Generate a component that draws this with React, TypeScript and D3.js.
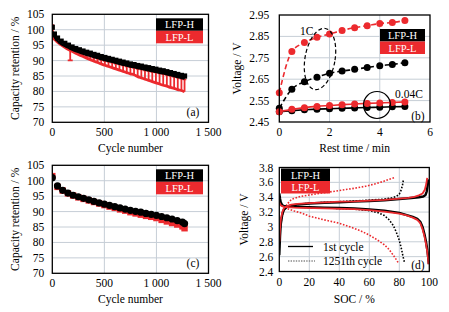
import React from 'react';
import * as d3 from 'd3';

const FONT = "'Liberation Serif', 'DejaVu Serif', serif";
const RED = '#ec2a2e';
const BLK = '#000000';
const GRID = '#c6ced6';

// ---------- (a) capacity retention with check-up comb ----------
const aCycles = [0, 20, 50, 85, 120, 155, 190, 225, 260, 295, 330, 365, 400, 435, 470, 505, 540, 575, 610, 645, 680, 715, 750, 785, 820, 855, 890, 925, 960, 995, 1030, 1065, 1100, 1135, 1170, 1205, 1240, 1270];
const aHTop = [100.8, 98.6, 97.3, 96.3, 95.6, 95.0, 94.4, 93.9, 93.5, 93.1, 92.7, 92.4, 92.0, 91.7, 91.3, 91.0, 90.7, 90.4, 90.1, 89.8, 89.5, 89.2, 88.9, 88.7, 88.4, 88.2, 87.9, 87.7, 87.4, 87.2, 86.9, 86.7, 86.4, 86.1, 85.8, 85.5, 85.2, 85.0];
const aHLow = [99.5, 97.6, 96.3, 95.3, 94.7, 94.1, 93.5, 93.0, 92.6, 92.2, 91.8, 91.5, 91.1, 90.8, 90.4, 90.1, 89.8, 89.5, 89.2, 88.9, 88.6, 88.3, 88.0, 87.8, 87.5, 87.3, 87.0, 86.8, 86.5, 86.3, 86.0, 85.8, 85.5, 85.2, 84.9, 84.6, 84.3, 84.1];
const aLTop = [101.5, 97.6, 96.2, 95.2, 94.5, 93.9, 93.3, 92.8, 92.4, 92.0, 91.6, 91.3, 90.9, 90.6, 90.2, 89.9, 89.6, 89.3, 89.0, 88.7, 88.4, 88.1, 87.8, 87.6, 87.3, 87.1, 86.8, 86.6, 86.3, 86.1, 85.8, 85.6, 85.3, 85.0, 84.7, 84.4, 84.1, 83.9];
const aLLow = [97.6, 96.9, 96.0, 95.1, 94.3, 93.6, 93.0, 92.4, 91.8, 91.3, 90.8, 90.3, 89.8, 89.4, 88.9, 88.5, 88.1, 87.7, 87.3, 86.9, 86.5, 86.1, 85.7, 85.4, 84.8, 84.4, 84.0, 83.6, 83.2, 82.8, 82.4, 82.0, 81.7, 81.3, 81.0, 80.6, 80.3, 79.9];
const aDipCycle = [172];
const aDipValue = [90.1];

// ---------- (b) rest voltage ----------
const bTime = [0, 0.5, 1, 1.5, 2, 2.5, 3, 3.5, 4, 4.5, 5];
const bL1C = [2.587, 2.779, 2.821, 2.846, 2.861, 2.878, 2.891, 2.900, 2.910, 2.915, 2.924];
const bH1C = [2.514, 2.603, 2.638, 2.659, 2.678, 2.688, 2.696, 2.705, 2.713, 2.719, 2.727];
const bL004 = [2.498, 2.509, 2.517, 2.523, 2.527, 2.531, 2.534, 2.537, 2.539, 2.541, 2.544];
const bH004 = [2.498, 2.503, 2.507, 2.510, 2.512, 2.514, 2.516, 2.518, 2.519, 2.521, 2.522];

// ---------- (c) capacity retention ----------
const cCycles = [0, 50, 100, 150, 200, 250, 300, 350, 400, 450, 500, 550, 600, 650, 700, 750, 800, 850, 900, 950, 1000, 1050, 1100, 1150, 1200, 1250, 1270];
const cH = [101.0, 98.3, 96.9, 96.0, 95.3, 94.8, 94.3, 93.8, 93.3, 92.8, 92.4, 92.0, 91.6, 91.2, 90.8, 90.4, 90.1, 89.8, 89.4, 89.1, 88.8, 88.4, 88.0, 87.6, 87.1, 86.6, 86.1];
const cL = [101.5, 98.0, 96.8, 95.9, 95.2, 94.6, 94.1, 93.6, 93.1, 92.6, 92.1, 91.6, 91.2, 90.7, 90.3, 89.8, 89.4, 89.0, 88.6, 88.3, 87.9, 87.3, 86.8, 86.3, 85.8, 85.2, 84.6];

// ---------- (d) voltage vs SOC ----------
const dH1ChgSoc = [0, 0.5, 1, 2, 3, 5, 8, 12, 20, 30, 40, 50, 60, 70, 80, 88, 93, 96, 97.5, 98.3, 98.9, 99.3];
const dH1ChgV = [2.62, 2.88, 3.04, 3.17, 3.23, 3.27, 3.29, 3.30, 3.315, 3.325, 3.33, 3.34, 3.35, 3.36, 3.375, 3.39, 3.40, 3.41, 3.43, 3.48, 3.56, 3.64];
const dL1ChgSoc = [0, 0.5, 1, 2, 3, 5, 8, 12, 20, 30, 40, 50, 60, 70, 80, 86, 90, 93, 95.5, 97, 98, 98.6];
const dL1ChgV = [2.80, 2.98, 3.10, 3.20, 3.25, 3.28, 3.30, 3.31, 3.32, 3.33, 3.34, 3.345, 3.355, 3.365, 3.38, 3.39, 3.405, 3.425, 3.45, 3.50, 3.58, 3.66];
const dH1DisSoc = [0, 0.5, 1, 2, 4, 10, 20, 30, 40, 50, 60, 70, 80, 85, 89, 92, 94, 95.5, 96.8, 97.8, 98.6, 99.2, 99.7];
const dH1DisV = [3.45, 3.38, 3.33, 3.29, 3.275, 3.27, 3.265, 3.26, 3.255, 3.25, 3.235, 3.22, 3.19, 3.16, 3.135, 3.11, 3.07, 3.00, 2.90, 2.80, 2.70, 2.60, 2.50];
const dL1DisSoc = [0, 1, 3, 10, 30, 50, 60, 70, 80, 85, 89, 92, 94, 95.5, 96.8, 97.8, 98.6, 99.2, 99.5];
const dL1DisV = [3.33, 3.29, 3.27, 3.26, 3.25, 3.24, 3.225, 3.205, 3.18, 3.155, 3.125, 3.095, 3.05, 2.97, 2.87, 2.77, 2.67, 2.57, 2.50];
const dHnChgSoc = [0, 0.5, 1, 2, 4, 8, 15, 25, 40, 50, 60, 70, 75, 78, 80, 81.3, 82.2, 82.8];
const dHnChgV = [2.72, 2.95, 3.08, 3.19, 3.26, 3.29, 3.31, 3.325, 3.34, 3.35, 3.36, 3.375, 3.39, 3.41, 3.44, 3.50, 3.57, 3.64];
const dHnDisSoc = [0, 2, 5, 15, 30, 47, 60, 66, 70, 73, 76, 78, 80, 81.5, 82.5, 83.5];
const dHnDisV = [3.32, 3.29, 3.275, 3.265, 3.255, 3.245, 3.22, 3.19, 3.155, 3.10, 3.02, 2.93, 2.82, 2.70, 2.60, 2.52];
const dLnChgSoc = [0.5, 1.5, 3, 5, 8, 14, 20, 30, 40, 50, 58, 64, 69, 73, 77];
const dLnChgV = [2.95, 3.10, 3.22, 3.30, 3.37, 3.41, 3.43, 3.46, 3.49, 3.52, 3.55, 3.58, 3.61, 3.64, 3.665];
const dLnDisSoc = [0, 1.5, 5, 10, 15, 20, 30, 40, 50, 55, 60, 65, 70, 73, 76, 78, 79.5];
const dLnDisV = [3.31, 3.29, 3.25, 3.215, 3.185, 3.145, 3.095, 3.05, 2.98, 2.94, 2.89, 2.83, 2.76, 2.70, 2.62, 2.56, 2.51];

const aXTicks = [0, 500, 1000, 1500];
const aXLabels = ['0', '500', '1 000', '1 500'];
const aYTicks = [70, 75, 80, 85, 90, 95, 100, 105];
const bXTicks = [0, 2, 4, 6];
const bYTicks = [2.45, 2.55, 2.65, 2.75, 2.85, 2.95];
const dXTicks = [0, 20, 40, 60, 80, 100];
const dYTicks = [2.4, 2.6, 2.8, 3.0, 3.2, 3.4, 3.6, 3.8];
const dYLabels = ['2.4', '2.6', '2.8', '3', '3.2', '3.4', '3.6', '3.8'];

type Lin = d3.ScaleLinear<number, number>;
const TXT = { fontFamily: FONT, fontSize: '11.5px' } as React.CSSProperties;

function Grid({ x, y, xs, ys }: { x: Lin; y: Lin; xs: number[]; ys: number[] }) {
  const [x0, x1] = x.range();
  const [y0, y1] = y.range();
  return (
    <g>
      {xs.map((v, i) => (
        <line key={'gx' + i} x1={x(v)} x2={x(v)} y1={y0} y2={y1} stroke={GRID} strokeWidth={1} />
      ))}
      {ys.map((v, i) => (
        <line key={'gy' + i} x1={x0} x2={x1} y1={y(v)} y2={y(v)} stroke={GRID} strokeWidth={1} />
      ))}
    </g>
  );
}

function Frame({ x, y }: { x: Lin; y: Lin }) {
  const [x0, x1] = x.range();
  const [y0, y1] = y.range();
  return <rect x={x0} y={y1} width={x1 - x0} height={y0 - y1} fill="none" stroke={BLK} strokeWidth={1.3} />;
}

function AxisLabels({ x, y, xt, xl, yt, yl, gap, xLabelY, xTitle, xTitleY, yTitle, yTitleX }: {
  x: Lin; y: Lin; xt: number[]; xl: string[]; yt: number[]; yl: string[]; gap: number;
  xLabelY: number; xTitle: string; xTitleY: number; yTitle: string; yTitleX: number;
}) {
  const [x0, x1] = x.range();
  const [y0, y1] = y.range();
  return (
    <g style={TXT} fill={BLK}>
      {xt.map((v, i) => (
        <text key={'xl' + i} x={x(v)} y={xLabelY} textAnchor="middle">{xl[i]}</text>
      ))}
      {yt.map((v, i) => (
        <text key={'yl' + i} x={x0 - gap} y={y(v) + 4} textAnchor="end">{yl[i]}</text>
      ))}
      <text x={(x0 + x1) / 2} y={xTitleY} textAnchor="middle">{xTitle}</text>
      <text transform={`translate(${yTitleX},${(y0 + y1) / 2}) rotate(-90)`} textAnchor="middle" dominantBaseline="central">{yTitle}</text>
    </g>
  );
}

function Legend({ x0, x1, yTop, h }: { x0: number; x1: number; yTop: number; h: number }) {
  return (
    <g style={{ fontFamily: FONT, fontSize: '10.5px' }}>
      <rect x={x0} y={yTop} width={x1 - x0} height={h} fill={BLK} />
      <rect x={x0} y={yTop + h} width={x1 - x0} height={h} fill={RED} />
      <text x={(x0 + x1) / 2} y={yTop + h / 2 + 3.8} fill="#fff" textAnchor="middle">LFP-H</text>
      <text x={(x0 + x1) / 2} y={yTop + h * 1.5 + 3.8} fill="#fff" textAnchor="middle">LFP-L</text>
    </g>
  );
}

function lineOf(x: Lin, y: Lin, xs: number[], ys: number[], curve: d3.CurveFactory = d3.curveMonotoneX) {
  const pts: [number, number][] = xs.map((v, i) => [x(v), y(ys[i])]);
  return d3.line().curve(curve)(pts) || '';
}

function PanelA({ top, variant }: { top: number; variant: 'a' | 'c' }) {
  const x = d3.scaleLinear().domain([0, 1500]).range([52.3, 208.5]);
  const y = d3.scaleLinear().domain([70, 105]).range([top + 108, top]);
  const bottom = top + 108;
  const clipId = 'clip' + variant;
  return (
    <g>
      <Grid x={x} y={y} xs={[500, 1000]} ys={[75, 80, 85, 90, 95, 100]} />
      <defs>
        <clipPath id={clipId}><rect x={52.3} y={top} width={156.2} height={108} /></clipPath>
      </defs>
      {variant === 'a' ? (
        <g clipPath={`url(#${clipId})`}>
          <path d={lineOf(x, y, [0, ...aCycles], [aLTop[0], ...aLLow])} fill="none" stroke={RED} strokeWidth={2.8} />
          {aCycles.map((c, i) => (
            <line key={'rs' + i} x1={x(c)} x2={x(c)} y1={y(aLLow[i])} y2={y(aLTop[i])} stroke={RED} strokeWidth={1.8} />
          ))}
          {aCycles.map((c, i) => (
            <line key={'rt' + i} x1={x(c) - 1.8} x2={x(c) + 1.8} y1={y(aLTop[i])} y2={y(aLTop[i])} stroke={RED} strokeWidth={1.5} />
          ))}
          {aDipCycle.map((c, i) => (
            <g key={'dip' + i}>
              <line x1={x(c)} x2={x(c)} y1={y(aLLow[5])} y2={y(aDipValue[i])} stroke={RED} strokeWidth={1.8} />
              <line x1={x(c) - 2.5} x2={x(c) + 2.5} y1={y(aDipValue[i])} y2={y(aDipValue[i])} stroke={RED} strokeWidth={1.8} />
            </g>
          ))}
          <path d={lineOf(x, y, aCycles, aHLow)} fill="none" stroke={BLK} strokeWidth={2} />
          {aCycles.map((c, i) => (
            <line key={'bs' + i} x1={x(c)} x2={x(c)} y1={y(aHLow[i])} y2={y(aHTop[i])} stroke={BLK} strokeWidth={1.4} />
          ))}
          {aCycles.map((c, i) => (
            <rect key={'bm' + i} x={x(c) - 2.6} y={y(aHTop[i]) - 2.6} width={5.2} height={5.2} fill={BLK} />
          ))}
        </g>
      ) : (
        <g clipPath={`url(#${clipId})`}>
          {cCycles.map((c, i) => (
            <rect key={'cr' + i} x={x(c) - 3.2} y={y(cL[i]) - 3.2} width={6.4} height={6.4} fill={RED} />
          ))}
          {cCycles.map((c, i) => (
            <circle key={'cb' + i} cx={x(c)} cy={y(cH[i])} r={3.6} fill={BLK} />
          ))}
        </g>
      )}
      <Frame x={x} y={y} />
      <AxisLabels
        x={x} y={y} xt={aXTicks} xl={aXLabels} yt={aYTicks} yl={aYTicks.map(String)} gap={8}
        xLabelY={bottom + 14} xTitle="Cycle number" xTitleY={bottom + 29.5}
        yTitle="Capacity retention / %" yTitleX={15}
      />
      <Legend x0={156} x1={203} yTop={top + 4} h={12.5} />
      <text x={193} y={bottom - 6} style={TXT} textAnchor="middle">({variant})</text>
    </g>
  );
}

function PanelB() {
  const x = d3.scaleLinear().domain([0, 6]).range([279.3, 430]);
  const y = d3.scaleLinear().domain([2.45, 2.95]).range([122, 15]);
  const series = [
    { t: bTime, v: bL1C, c: RED, dash: '5,3' },
    { t: bTime, v: bH1C, c: BLK, dash: '5,3' },
    { t: bTime, v: bH004, c: BLK, dash: '' },
    { t: bTime, v: bL004, c: RED, dash: '' },
  ];
  return (
    <g>
      <Grid x={x} y={y} xs={[2, 4]} ys={[2.55, 2.65, 2.75, 2.85]} />
      {series.map((s, k) => (
        <g key={'bs' + k}>
          <path d={lineOf(x, y, s.t, s.v)} fill="none" stroke={s.c} strokeWidth={1.6} strokeDasharray={s.dash || undefined} />
          {s.t.map((t, i) => (
            <circle key={i} cx={x(t)} cy={y(s.v[i])} r={3.5} fill={s.c} />
          ))}
        </g>
      ))}
      <ellipse cx={320} cy={59} rx={15} ry={31} transform="rotate(10 320 59)" fill="none" stroke={BLK} strokeWidth={1.2} strokeDasharray="4,2.5" />
      <circle cx={377} cy={105} r={13.5} fill="none" stroke={BLK} strokeWidth={1.2} />
      <text x={300} y={35} style={TXT}>1C</text>
      <text x={395} y={98} style={TXT}>0.04C</text>
      <Frame x={x} y={y} />
      <AxisLabels
        x={x} y={y} xt={bXTicks} xl={bXTicks.map(String)} yt={bYTicks} yl={bYTicks.map((v) => v.toFixed(2))} gap={10}
        xLabelY={136} xTitle="Rest time / min" xTitleY={151.5}
        yTitle="Voltage / V" yTitleX={237}
      />
      <Legend x0={380} x1={425} yTop={29} h={12.5} />
      <text x={418} y={120} style={TXT} textAnchor="middle">(b)</text>
    </g>
  );
}

function PanelD() {
  const x = d3.scaleLinear().domain([0, 100]).range([279.3, 429.3]);
  const y = d3.scaleLinear().domain([2.4, 3.8]).range([271.5, 167.5]);
  const curves = [
    { s: dLnDisSoc, v: dLnDisV, c: RED, dash: '1.6,1.6', w: 1.6 },
    { s: dLnChgSoc, v: dLnChgV, c: RED, dash: '1.6,1.6', w: 1.6 },
    { s: dHnDisSoc, v: dHnDisV, c: BLK, dash: '1.6,1.6', w: 1.6 },
    { s: dHnChgSoc, v: dHnChgV, c: BLK, dash: '1.6,1.6', w: 1.6 },
    { s: dH1ChgSoc, v: dH1ChgV, c: BLK, dash: '', w: 2.4 },
    { s: dH1DisSoc, v: dH1DisV, c: BLK, dash: '', w: 2.4 },
    { s: dL1ChgSoc, v: dL1ChgV, c: RED, dash: '', w: 1.8 },
    { s: dL1DisSoc, v: dL1DisV, c: RED, dash: '', w: 1.8 },
  ];
  return (
    <g>
      <Grid x={x} y={y} xs={[20, 40, 60, 80]} ys={[2.6, 2.8, 3.0, 3.2, 3.4, 3.6]} />
      <defs>
        <clipPath id="clipd"><rect x={279.3} y={167.5} width={150} height={104} /></clipPath>
      </defs>
      <g clipPath="url(#clipd)">
        {curves.map((c, k) => (
          <path key={k} d={lineOf(x, y, c.s, c.v, d3.curveLinear)} fill="none" stroke={c.c} strokeWidth={c.w}
            strokeDasharray={c.dash || undefined} strokeLinejoin="round" />
        ))}
      </g>
      <Frame x={x} y={y} />
      <AxisLabels
        x={x} y={y} xt={dXTicks} xl={dXTicks.map(String)} yt={dYTicks} yl={dYLabels} gap={6}
        xLabelY={286} xTitle="SOC / %" xTitleY={303}
        yTitle="Voltage / V" yTitleX={244}
      />
      <Legend x0={281} x1={330} yTop={168.5} h={12.5} />
      <g style={TXT}>
        <line x1={288} x2={313} y1={246.5} y2={246.5} stroke={BLK} strokeWidth={1.3} />
        <text x={323} y={250.5}>1st cycle</text>
        <line x1={288} x2={315} y1={261} y2={261} stroke="#888" strokeWidth={1.6} strokeDasharray="1.4,1.2" />
        <text x={323} y={265}>1251th cycle</text>
        <text x={418} y={269} textAnchor="middle">(d)</text>
      </g>
    </g>
  );
}

export default function App() {
  return (
    <svg width={449} height={312} viewBox="0 0 449 312" style={{ display: 'block', position: 'absolute', left: 0, top: 0, background: '#fff', fontFamily: FONT }}>
      <rect x={0} y={0} width={449} height={312} fill="#fff" />
      <PanelA top={14.3} variant="a" />
      <PanelB />
      <PanelA top={165.3} variant="c" />
      <PanelD />
    </svg>
  );
}
